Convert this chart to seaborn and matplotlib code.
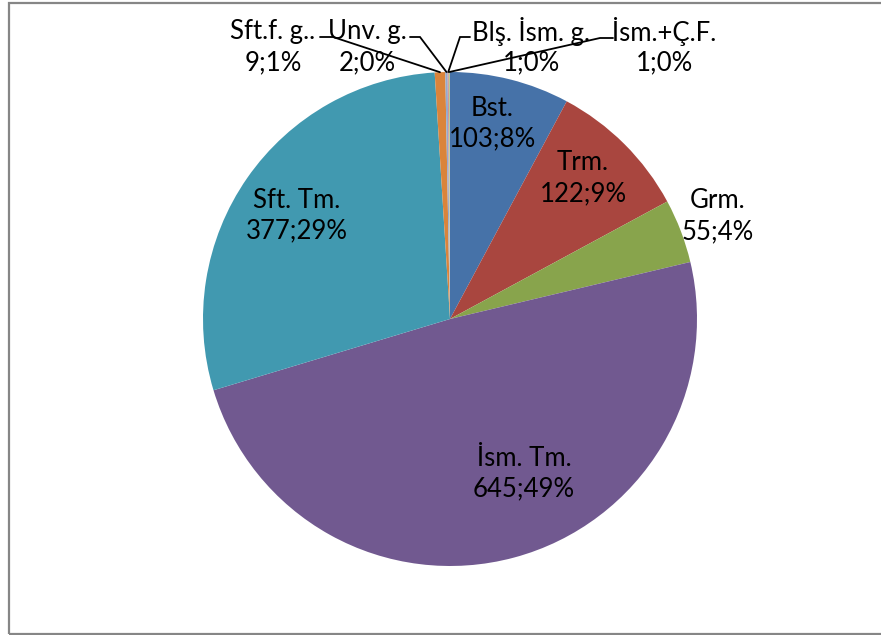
import matplotlib
matplotlib.use("Agg")
import matplotlib.pyplot as plt
import seaborn as sns
import numpy as np
from matplotlib.patches import Rectangle

# ---- data ----
categories = ["Bst.", "Trm.", "Grm.", "İsm. Tm.", "Sft. Tm.", "Sft.f. g..", "Unv. g.", "Blş. İsm. g.", "İsm.+Ç.F."]
values = [103, 122, 55, 645, 377, 9, 2, 1, 1]
percent_labels = ["8%", "9%", "4%", "49%", "29%", "1%", "0%", "0%", "0%"]
colors = ["#4672A8", "#A9463F", "#88A44C", "#715990", "#4199B0", "#DA843B", "#93A9CF", "#D19392", "#B9CD96"]

# ---- layout (pixel coords, y down) ----
W, H = 881, 635
CX, CY, R = 450, 319, 247
label_pos = [(492, 108), (583, 163), (718, 201), (524, 458), (297, 200),
             (273, 32), (367, 32), (531, 32), (664, 32)]
leader_knee = [None, None, None, None, None,
               ((320, 37), (333, 37)), ((410, 37), (420, 37)),
               ((470, 37), (460, 37)), ((613, 38), (600, 38))]

sns.set_theme(style="white")
plt.rcParams["font.family"] = ["Lato", "DejaVu Sans"]

fig = plt.figure(figsize=(W / 100, H / 100), dpi=100)
ax = fig.add_axes([0, 0, 1, 1])

def Y(y):
    return H - y

pal = sns.color_palette(colors)
wedges, _ = ax.pie(values, colors=pal, startangle=90, counterclock=False,
                   center=(CX, Y(CY)), radius=R, frame=True,
                   wedgeprops=dict(edgecolor="none", linewidth=0))
ax.set_xlim(0, W)
ax.set_ylim(0, H)
ax.set_axis_off()

for i, (cat, v, p) in enumerate(zip(categories, values, percent_labels)):
    x, y = label_pos[i]
    ax.text(x, Y(y), cat, ha="center", va="center", fontsize=18.5, color="#000000")
    ax.text(x, Y(y + 31), f"{v};{p}", ha="center", va="center", fontsize=18.5, color="#000000")
    if leader_knee[i] is not None:
        w = wedges[i]
        ang = np.deg2rad((w.theta1 + w.theta2) / 2)
        ex = CX + R * np.cos(ang)
        ey = Y(CY) + R * np.sin(ang)
        (x1, y1), (x2, y2) = leader_knee[i]
        ax.plot([x1, x2, ex], [Y(y1), Y(y2), ey], color="black", lw=1.3,
                solid_joinstyle="miter")

ax.add_patch(Rectangle((8.5, Y(633.5)), W + 10, 631, fill=False,
                       edgecolor="#868686", linewidth=1.6, transform=ax.transData,
                       clip_on=False))

fig.savefig("out.png", dpi=100)
